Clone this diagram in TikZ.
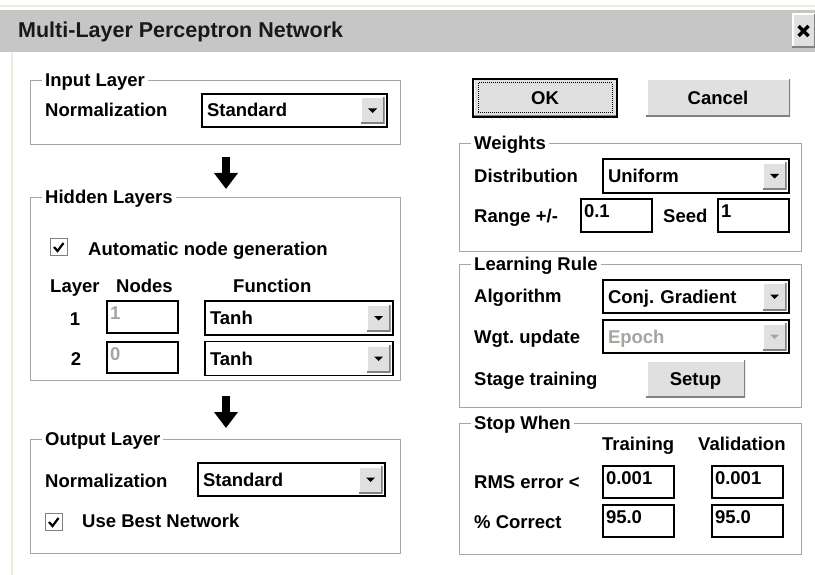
\documentclass[tikz,border=0pt]{standalone}
\usepackage{fontspec}
\setmainfont{Liberation Sans}
\usepackage{tikz}
\usetikzlibrary{arrows.meta, positioning, calc}
\frenchspacing
\definecolor{barbg}{RGB}{198,198,198}
\definecolor{framegray}{RGB}{165,165,165}
\definecolor{btnface}{RGB}{224,224,224}
\definecolor{btnshade}{RGB}{128,128,128}
\definecolor{greytext}{RGB}{165,165,160}
\definecolor{edgecream}{RGB}{236,236,222}
\tikzset{
  dlgtext/.style={font=\fontsize{18.5}{22}\selectfont\bfseries},
  lbl/.style={dlgtext, anchor=base west, inner sep=0pt},
  grouptitle/.style={dlgtext, anchor=west, fill=white, inner xsep=3pt, inner ysep=0pt,
    text height=13pt, text depth=0pt},
  groupbox/.style={rectangle, draw=framegray, line width=1.2pt, anchor=north west, inner sep=0pt},
  combo/.style={rectangle, draw=black, fill=white, line width=1.6pt, dlgtext, align=left,
    inner xsep=5pt, inner ysep=0pt, text height=13pt, text depth=0pt},
  editbox/.style={rectangle, draw=black, fill=white, line width=1.6pt, dlgtext, align=left,
    inner xsep=3pt, inner ysep=0pt, text height=13pt, text depth=8pt},
  raised/.style={rectangle, fill=btnface, inner sep=0pt, path picture={
      \draw[white, line width=3pt] (path picture bounding box.south west)
        -- (path picture bounding box.north west) -- (path picture bounding box.north east);
      \draw[btnshade, line width=3pt] (path picture bounding box.north east)
        -- (path picture bounding box.south east) -- (path picture bounding box.south west);}},
  dropbtn/.style={raised, minimum width=24, minimum height=27, anchor=east},
  pushbtn/.style={raised, dlgtext, text height=13pt, text depth=0pt},
  checkbox/.style={rectangle, draw=btnshade, fill=white, line width=1.2pt, minimum size=17, inner sep=0pt},
  downarrow/.style={line width=8pt, -{Triangle[width=23pt, length=16pt]}},
  tick/.style={line width=2.2pt}
}
\begin{document}
\begin{tikzpicture}[x=1pt, y=-1pt]
  \useasboundingbox[fill=white] (0,0) rectangle (815,575);

  % Window frame and title bar
  \draw[edgecream, line width=1.5pt] (0,6) -- (815,6);
  \draw[edgecream, line width=2pt] (12,52) -- (12,575);
  \fill[barbg] (0,10) rectangle (815,52);
  \node[font=\fontsize{21.5}{24}\selectfont\bfseries, anchor=base west, inner sep=0pt, text=black!90]
    (title) at (18,38) {Multi-Layer Perceptron Network};
  \node[raised, minimum width=23, minimum height=34] (closebtn) at (803.5,31) {};
  \draw[line width=3.2pt] ($(closebtn.center)+(-5,-5)$) -- ($(closebtn.center)+(5,5)$);
  \draw[line width=3.2pt] ($(closebtn.center)+(-5,5)$) -- ($(closebtn.center)+(5,-5)$);

  % Input layer
  \node[groupbox, minimum width=370, minimum height=64] (inbox) at (30,80) {};
  \node[grouptitle] (intitle) at (42,80) {Input Layer};
  \node[lbl] (innorm) at (45,117) {Normalization};
  \node[combo, text width=175, minimum height=33] (cbin) at (294.5,110.5) {Standard};

  % Hidden layers
  \node[groupbox, minimum width=370, minimum height=183] (hidbox) at (30,197) {};
  \node[grouptitle] (hidtitle) at (42,197) {Hidden Layers};
  \node[checkbox] (chkauto) at (59,247) {};
  \draw[tick] ($(chkauto.center)+(-5,0)$) -- ++(3.5,4) -- ++(6,-8);
  \node[lbl] (auto) at (88,255) {Automatic node generation};
  \node[lbl] (hdlayer) at (50,292) {Layer};
  \node[lbl] (hdnodes) at (116,292) {Nodes};
  \node[lbl] (hdfunc) at (233,292) {Function};
  \node[lbl, anchor=base] (lay1) at (75,325) {1};
  \node[lbl, anchor=base] (lay2) at (76,365) {2};
  \node[editbox, text width=65, minimum height=32, text=greytext] (nodes1) at (142.5,317) {1};
  \node[editbox, text width=65, minimum height=31, text=greytext] (nodes2) at (142.5,357.5) {0};
  \node[combo, text width=178, minimum height=34] (cbf1) at (299,318) {Tanh};
  \node[combo, text width=178, minimum height=34] (cbf2) at (299,358.5) {Tanh};

  % Output layer
  \node[groupbox, minimum width=370, minimum height=114] (outbox) at (30,439) {};
  \node[grouptitle] (outtitle) at (42,439) {Output Layer};
  \node[lbl] (outnorm) at (45,487) {Normalization};
  \node[combo, text width=177, minimum height=33] (cbout) at (291.5,479.5) {Standard};
  \node[checkbox] (chkbest) at (54,522) {};
  \draw[tick] ($(chkbest.center)+(-5,0)$) -- ++(3.5,4) -- ++(6,-8);
  \node[lbl] (best) at (82,527) {Use Best Network};

  % Arrows between the layers
  \coordinate (a1top) at (226,157);
  \coordinate (a1bot) at (226,189);
  \coordinate (a2top) at (226,396);
  \coordinate (a2bot) at (226,428);
  \draw[downarrow] (a1top) -- (a1bot);
  \draw[downarrow] (a2top) -- (a2bot);

  % OK / Cancel
  \node[pushbtn, draw=black, line width=2pt, minimum width=144, minimum height=38] (okbtn) at (545,98) {OK};
  \draw[densely dotted, line width=1pt] ([shift={(6,5)}]okbtn.north west) rectangle ([shift={(-6,-5)}]okbtn.south east);
  \node[pushbtn, minimum width=144, minimum height=38] (cancelbtn) at (718,98) {Cancel};

  % Weights
  \node[groupbox, minimum width=342, minimum height=108] (wbox) at (459,143) {};
  \node[grouptitle] (wtitle) at (471,143) {Weights};
  \node[lbl] (dist) at (474,183) {Distribution};
  \node[combo, text width=176, minimum height=34] (cbdist) at (696,176) {Uniform};
  \node[lbl] (range) at (474,223) {Range +/-};
  \node[editbox, text width=65, minimum height=33] (rangebox) at (616.5,215.5) {0.1};
  \node[lbl] (seed) at (663,223) {Seed};
  \node[editbox, text width=65, minimum height=33] (seedbox) at (753.5,215.5) {1};

  % Learning rule
  \node[groupbox, minimum width=342, minimum height=143] (lrbox) at (459,264) {};
  \node[grouptitle] (lrtitle) at (471,264) {Learning Rule};
  \node[lbl] (alg) at (474,302) {Algorithm};
  \node[combo, text width=176, minimum height=33] (cbalg) at (696,296.5) {Conj. Gradient};
  \node[lbl] (wgt) at (474,343) {Wgt. update};
  \node[combo, text width=176, minimum height=33, text=greytext] (cbwgt) at (696,336.5) {Epoch};
  \node[lbl] (stage) at (474,385) {Stage training};
  \node[pushbtn, minimum width=99, minimum height=37] (setupbtn) at (695.5,378.5) {Setup};

  % Stop criteria
  \node[groupbox, minimum width=342, minimum height=131] (swbox) at (459,423) {};
  \node[grouptitle] (swtitle) at (471,423) {Stop When};
  \node[lbl] (hdtrain) at (602,450) {Training};
  \node[lbl] (hdvalid) at (698,450) {Validation};
  \node[lbl] (rms) at (474,488) {RMS error <};
  \node[editbox, text width=65, minimum height=32] (rmstr) at (638.5,482) {0.001};
  \node[editbox, text width=65, minimum height=32] (rmsval) at (747.5,482) {0.001};
  \node[lbl] (pct) at (474,528) {\% Correct};
  \node[editbox, text width=65, minimum height=32] (pcttr) at (638.5,521) {95.0};
  \node[editbox, text width=65, minimum height=32] (pctval) at (747.5,521) {95.0};

  % Drop-down buttons
  \foreach \cb in {cbin, cbf1, cbf2, cbout, cbdist, cbalg} {
    \node[dropbtn] (\cb-btn) at ([xshift=-3pt]\cb.east) {};
    \fill ($(\cb-btn.center)+(-4.5,-2)$) -- ++(9,0) -- ++(-4.5,4.5) -- cycle;
  }
  \node[dropbtn] (cbwgt-btn) at ([xshift=-3pt]cbwgt.east) {};
  \fill[greytext] ($(cbwgt-btn.center)+(-4.5,-2)$) -- ++(9,0) -- ++(-4.5,4.5) -- cycle;
\end{tikzpicture}
\end{document}
